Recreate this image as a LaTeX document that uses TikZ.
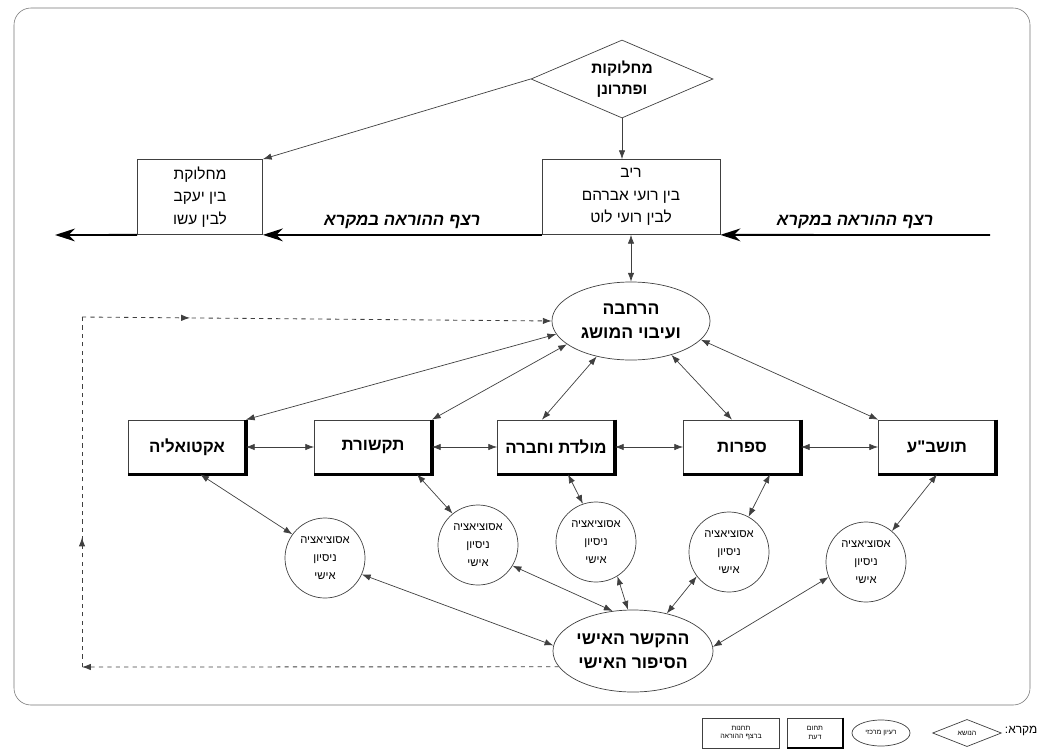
\documentclass[tikz,border=0pt]{standalone}
\usepackage{fontspec}
\usetikzlibrary{arrows.meta,shapes.geometric,decorations.markings}
\TeXXeTstate=1
\newfontfamily\hebfont[Script=Hebrew]{Liberation Sans}
\newcommand{\hebline}[1]{\beginR #1\endR}

\tikzset{
  ink/.style={draw=black!75, line width=0.5pt},
  topic/.style={ink, diamond, aspect=2.3, inner sep=0pt, minimum width=4.55cm, minimum height=1.95cm,
    align=center, font=\hebfont\bfseries\fontsize{11}{15}\selectfont},
  stationbox/.style={ink, rectangle, minimum height=1.875cm, align=center,
    font=\hebfont\fontsize{11}{16}\selectfont},
  idea/.style={ink, ellipse, inner sep=0pt, minimum width=3.95cm, minimum height=1.95cm,
    align=center, font=\hebfont\bfseries\fontsize{12.5}{17}\selectfont},
  fieldbox/.style={ink, rectangle, minimum width=2.925cm, minimum height=1.35cm,
    font=\hebfont\bfseries\fontsize{12}{14}\selectfont},
  assoc/.style={ink, circle, inner sep=0pt, minimum size=2cm, align=center,
    font=\hebfont\fontsize{8}{13}\selectfont},
  twoway/.style={black!75, line width=0.5pt, {Latex[length=2.2mm,width=1.6mm]}-{Latex[length=2.2mm,width=1.6mm]}},
  oneway/.style={black!75, line width=0.5pt, -{Latex[length=2.2mm,width=1.6mm]}},
  flow/.style={line width=1.3pt, -{Stealth[length=5mm,width=3.2mm]}},
  flowlabel/.style={above, midway, inner sep=4pt, font=\hebfont\bfseries\itshape\fontsize{12}{14}\selectfont},
  backpath/.style={black!75, line width=0.6pt, dash pattern=on 3pt off 3pt},
  midtip/.style={postaction={decorate}, decoration={markings,
    mark=at position #1 with {\arrow{Latex[length=2.2mm,width=1.6mm]}}}},
  keytext/.style={font=\hebfont\fontsize{5}{6}\selectfont, align=center}
}

\begin{document}
\begin{tikzpicture}[x=0.025cm,y=-0.025cm]
\useasboundingbox (0,0) rectangle (1041,751);

% frame
\draw[black!55, rounded corners=12pt] (14,8) rectangle (1030,705);

% top: the subject and the teaching sequence
\node[topic] (topic) at (622,79) {\hebline{מחלוקות}\\\hebline{ופתרונן}};
\node[stationbox, minimum width=4.45cm] (rib) at (631,197)
  {\hebline{ריב}\\\hebline{בין רועי אברהם}\\\hebline{לבין רועי לוט}};
\node[stationbox, minimum width=3.125cm] (mach) at (200,197)
  {\hebline{מחלוקת}\\\hebline{בין יעקב}\\\hebline{לבין עשו}};
\coordinate (flowin) at (990,235);
\coordinate (flowout) at (55,235);

\draw[oneway] (topic.south) -- (topic.south |- rib.north);
\draw[oneway] (topic.west) -- (mach.north east);

\draw[flow] (flowin) -- (rib.south east) node[flowlabel] {\hebline{רצף ההוראה במקרא}};
\draw[flow] (rib.south west) -- (mach.south east) node[flowlabel] {\hebline{רצף ההוראה במקרא}};
\draw[flow] (mach.south west) -- (flowout);

% central idea
\node[idea] (ell1) at (631,321) {\hebline{הרחבה}\\\hebline{ועיבוי המושג}};
\draw[twoway] (rib.south) -- (ell1.north);

% fields of knowledge
\node[fieldbox] (b1) at (187,447) {\hebline{אקטואליה}};
\node[fieldbox] (b2) at (373,447) {\hebline{תקשורת}};
\node[fieldbox] (b3) at (556,447) {\hebline{מולדת וחברה}};
\node[fieldbox] (b4) at (742,447) {\hebline{ספרות}};
\node[fieldbox] (b5) at (937,447) {\hebline{תושב"ע}};
\foreach \b in {b1,b2,b3,b4,b5} {
    \draw[line width=2.4pt] (\b.north east) -- (\b.south east) -- (\b.south west);
}

\draw[twoway] (ell1.190) -- (b1.north east);
\draw[twoway] (ell1.200) -- (b2.north east);
\draw[twoway] (ell1.226) -- ([xshift=-0.35cm]b3.north);
\draw[twoway] (ell1.320) -- ([xshift=-0.25cm]b4.north);
\draw[twoway] (ell1.345) -- (b5.north west);

\draw[twoway] (b1.east) -- (b2.west);
\draw[twoway] (b2.east) -- (b3.west);
\draw[twoway] (b3.east) -- (b4.west);
\draw[twoway] (b4.east) -- (b5.west);

% associations
\node[assoc] (c1) at (325,558) {\hebline{אסוציאציה}\\\hebline{ניסיון}\\\hebline{אישי}};
\node[assoc] (c2) at (478,545) {\hebline{אסוציאציה}\\\hebline{ניסיון}\\\hebline{אישי}};
\node[assoc] (c3) at (596,542) {\hebline{אסוציאציה}\\\hebline{ניסיון}\\\hebline{אישי}};
\node[assoc] (c4) at (729,552) {\hebline{אסוציאציה}\\\hebline{ניסיון}\\\hebline{אישי}};
\node[assoc] (c5) at (866,562) {\hebline{אסוציאציה}\\\hebline{ניסיון}\\\hebline{אישי}};

\draw[twoway] ([xshift=0.33cm]b1.south) -- (c1.144);
\draw[twoway] ([xshift=1.1cm]b2.south) -- (c2.129);
\draw[twoway] ([xshift=0.3cm]b3.south) -- (c3.109);
\draw[twoway] ([xshift=0.7cm]b4.south) -- (c4.61);
\draw[twoway] (b5.south) -- (c5.50);

% personal context
\node[idea, minimum width=4cm, minimum height=2.05cm] (ell2) at (633,651)
  {\hebline{ההקשר האישי}\\\hebline{הסיפור האישי}};

\draw[twoway] (c1.336) -- (ell2.176);
\draw[twoway] (c2.329) -- (ell2.117);
\draw[twoway] (c3.302) -- (ell2.97);
\draw[twoway] (c4.217) -- (ell2.48);
\draw[twoway] (c5.202) -- (ell2.3);

% back path
\coordinate (lb) at (82,667);
\coordinate (lt) at (82,317);
\draw[backpath, -{Latex[length=2.2mm,width=1.6mm]}] (ell2.192) -- (lb);
\draw[backpath, midtip=0.37] (lb) -- (lt);
\draw[backpath, midtip=0.23, -{Latex[length=2.2mm,width=1.6mm]}] (lt) -- (ell1.west);

% key
\node[keytext, ink, minimum width=1.925cm, minimum height=0.75cm] (k1) at (741,733)
  {\hebline{תחנות}\\\hebline{ברצף ההוראה}};
\node[keytext, ink, minimum width=1.375cm, minimum height=0.75cm] (k2) at (815,733)
  {\hebline{תחום}\\\hebline{דעת}};
\draw[line width=1.6pt] (k2.north east) -- (k2.south east) -- (k2.south west);
\node[keytext, ink, ellipse, inner sep=0pt, minimum width=1.45cm, minimum height=0.65cm] (k3) at (881,733)
  {\hebline{רעיון מרכזי}};
\node[keytext, ink, diamond, aspect=2.5, inner sep=0pt, minimum width=1.72cm, minimum height=0.68cm] (k4) at (967,733)
  {\hebline{הנושא}};
\node[anchor=east, inner sep=1pt, font=\hebfont\fontsize{8.5}{10}\selectfont] (keyname) at (1039,731) {\hebline{מקרא:}};
\end{tikzpicture}
\end{document}
